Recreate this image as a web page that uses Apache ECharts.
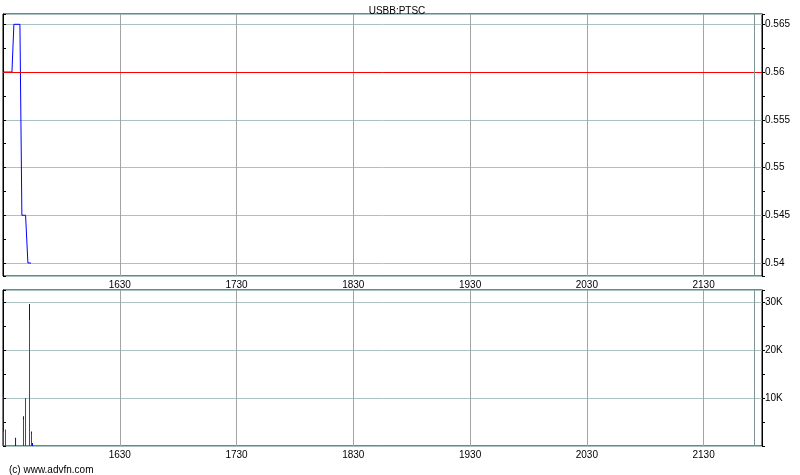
<!DOCTYPE html>
<html>
<head>
<meta charset="utf-8">
<script src="https://cdn.jsdelivr.net/npm/echarts@6/dist/echarts.min.js"></script>
<style>html,body{margin:0;padding:0;background:#fff}#c{width:800px;height:475px}</style>
</head>
<body>
<div id="c"></div>
<script>
// ---- data ----
const title = 'USBB:PTSC';
const copyright = '(c) www.advfn.com';
const priceTimes = ['15:30:00','15:34:36','15:35:36','15:38:42','15:39:42','15:41:36','15:42:48','15:44:24'];
const priceValues = [0.56, 0.56, 0.565, 0.565, 0.545, 0.545, 0.54, 0.54];
const prevClose = 0.56;
const volTimes = ['15:30:15','15:31:17','15:36:27','15:40:32','15:41:34','15:43:37','15:44:38','15:45:10'];
const volSell = [3000, 3400, 0, 5500, 10000, 26200, 2600, 0];
const volBuy  = [7700, 0, 1700, 700, 0, 3400, 400, 600];
const sessionEnd = '21:56:00';

// ---- helpers ----
function toMin(s){ const p = s.split(':').map(Number); return p[0]*60 + p[1] + (p[2]||0)/60; }
function fmtTime(v){ const h = Math.floor(v/60), m = Math.round(v%60); return '' + h + (m<10?'0':'') + m; }
const X_MIN = toMin('15:30'), X_MAX = toMin('22:00');
const FONT = 'Liberation Sans';

const chart = echarts.init(document.getElementById('c'), null, {renderer:'canvas'});

const xAxisCommon = {
  type:'value', min:X_MIN, max:X_MAX, interval:60,
  axisLine:{show:false}, axisTick:{show:false},
  axisLabel:{show:true, formatter:fmtTime, color:'#000', fontSize:10, fontFamily:FONT, margin:4, showMinLabel:false, showMaxLabel:false},
  splitLine:{show:true, lineStyle:{color:'#a4a4a4', width:1}}
};
const hGrid = {show:true, lineStyle:{color:'#aac2c2', width:1}};

const volTotal = volSell.map((s,i)=>s+volBuy[i]);

chart.setOption({
  animation:false,
  backgroundColor:'#fff',
  title:[
    {text:title, left:392, top:1, textAlign:'center', textStyle:{fontSize:10, fontWeight:'normal', color:'#000', fontFamily:FONT}},
    {text:copyright, left:4, top:460, textStyle:{fontSize:10, fontWeight:'normal', color:'#000', fontFamily:FONT}}
  ],
  grid:[
    {left:3, width:759, top:14, height:262, show:true, borderColor:'#000', borderWidth:1, backgroundColor:'transparent'},
    {left:3, width:759, top:290, height:156, show:true, borderColor:'#000', borderWidth:1, backgroundColor:'transparent'}
  ],
  xAxis:[
    Object.assign({gridIndex:0}, xAxisCommon),
    Object.assign({gridIndex:1}, xAxisCommon)
  ],
  yAxis:[
    {gridIndex:0, type:'value', position:'right', min:0.53864, max:0.56608, minInterval:0.005, maxInterval:0.005,
     axisLine:{show:true, lineStyle:{color:'#000'}},
     axisTick:{show:true, length:3, lineStyle:{color:'#000'}},
     minorTick:{show:true, splitNumber:2, length:3, lineStyle:{color:'#000'}},
     axisLabel:{color:'#000', fontSize:10, fontFamily:FONT, margin:3, showMinLabel:false, showMaxLabel:false,
       formatter:function(v){ return String(+v.toFixed(4)); }},
     splitLine:hGrid},
    {gridIndex:0, type:'value', position:'left', min:0.53864, max:0.56608, minInterval:0.005, maxInterval:0.005,
     axisLine:{show:true, lineStyle:{color:'#000'}},
     axisTick:{show:true, inside:true, length:3, lineStyle:{color:'#000'}},
     minorTick:{show:true, splitNumber:2, length:3, lineStyle:{color:'#000'}},
     axisLabel:{show:false}, splitLine:{show:false}},
    {gridIndex:1, type:'value', position:'right', min:0, max:32500, minInterval:10000, maxInterval:10000,
     axisLine:{show:true, lineStyle:{color:'#000'}},
     axisTick:{show:true, length:3, lineStyle:{color:'#000'}},
     minorTick:{show:true, splitNumber:2, length:3, lineStyle:{color:'#000'}},
     axisLabel:{color:'#000', fontSize:10, fontFamily:FONT, margin:3, showMinLabel:false, showMaxLabel:false,
       formatter:function(v){ return (v/1000)+'K'; }},
     splitLine:hGrid},
    {gridIndex:1, type:'value', position:'left', min:0, max:32500, minInterval:10000, maxInterval:10000,
     axisLine:{show:true, lineStyle:{color:'#000'}},
     axisTick:{show:true, inside:true, length:3, lineStyle:{color:'#000'}},
     minorTick:{show:true, splitNumber:2, length:3, lineStyle:{color:'#000'}},
     axisLabel:{show:false}, splitLine:{show:false}}
  ],
  series:[
    {type:'line', xAxisIndex:0, yAxisIndex:0, symbol:'none',
     lineStyle:{color:'#0000ff', width:1}, itemStyle:{color:'#0000ff'},
     data: priceTimes.map((t,i)=>[toMin(t), priceValues[i]]),
     markLine:{silent:true, symbol:'none', label:{show:false},
       data:[{yAxis:prevClose, lineStyle:{color:'#ff0000', width:1, type:'solid'}},
             {xAxis:toMin(sessionEnd), lineStyle:{color:'#7f9494', width:1, type:'solid'}}]}},
    {type:'bar', xAxisIndex:1, yAxisIndex:2, barWidth:1, barGap:'-100%',
     itemStyle:{color:'#0000ff'},
     data: volTimes.map((t,i)=>[toMin(t), volTotal[i]]),
     markLine:{silent:true, symbol:'none', label:{show:false},
       data:[{xAxis:toMin(sessionEnd), lineStyle:{color:'#7f9494', width:1, type:'solid'}}]}},
    {type:'bar', xAxisIndex:1, yAxisIndex:2, barWidth:1, barGap:'-100%',
     itemStyle:{color:'#ff0000'},
     data: volTimes.map((t,i)=>[toMin(t), volSell[i]])}
  ]
});
</script>
</body>
</html>
